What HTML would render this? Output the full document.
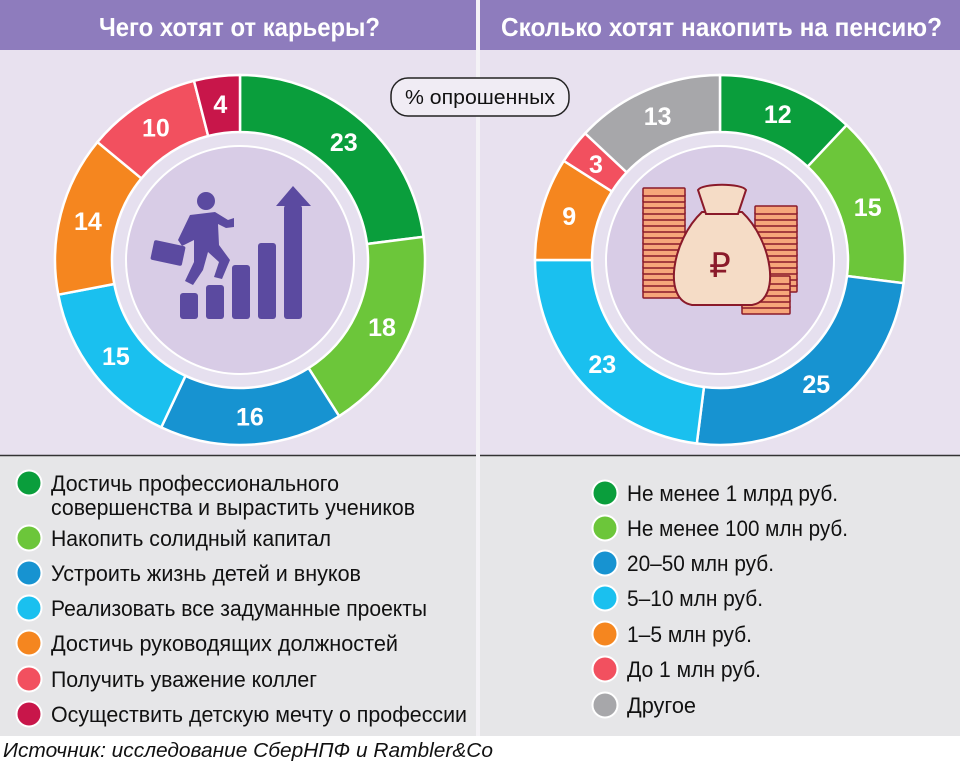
<!DOCTYPE html>
<html><head><meta charset="utf-8"><style>
html,body{margin:0;padding:0;background:#fff}
svg{display:block}
text{font-family:"Liberation Sans",sans-serif}
</style></head><body>
<svg id="s" width="960" height="768" viewBox="0 0 960 768" xmlns="http://www.w3.org/2000/svg">
<rect x="0" y="0" width="960" height="768" fill="#fff"/>
<rect x="0" y="50" width="960" height="405" fill="#e8e1ef"/>
<rect x="0" y="456" width="960" height="280" fill="#e6e6e8"/>
<rect x="0" y="0" width="960" height="50" fill="#8e7cbd"/>
<line x1="0" y1="455.5" x2="960" y2="455.5" stroke="#333" stroke-width="1.5"/>
<rect x="476" y="0" width="4" height="736" fill="#f4f2f6"/>
<text x="99" y="36" fill="#fff" font-size="26" font-weight="bold" textLength="281" lengthAdjust="spacingAndGlyphs">Чего хотят от карьеры?</text>
<text x="501" y="36" fill="#fff" font-size="26" font-weight="bold" textLength="441" lengthAdjust="spacingAndGlyphs">Сколько хотят накопить на пенсию?</text>
<g id="d1"></g><g id="d2"></g>
<rect x="391" y="78" width="178" height="38" rx="17" fill="#f0ecf4" stroke="#222" stroke-width="1.5"/>
<text x="405" y="104" font-size="20" fill="#111" textLength="150" lengthAdjust="spacingAndGlyphs">% опрошенных</text>
<!-- career icon -->
<g fill="#5b4aa0">
<rect x="180" y="293" width="18" height="26" rx="3"/>
<rect x="206" y="285" width="18" height="34" rx="3"/>
<rect x="232" y="265" width="18" height="54" rx="3"/>
<rect x="258" y="243" width="18" height="76" rx="3"/>
<rect x="284" y="205" width="18" height="114" rx="3"/>
<polygon points="276,206 293,186 311,206"/>
<circle cx="206" cy="201" r="9"/>
<path d="M190 215 L215 212 L228 220 L234 218 L234 227 L226 228 L218 224 L219 245 L230 260 L222 279 L214 277 L219 262 L208 252 L203 270 L193 285 L185 281 L194 262 L194 240 L182 246 L178 240 Z"/>
<rect x="152" y="243" width="32" height="20" rx="2" transform="rotate(12 168 253)"/>
</g>
<!-- money bag icon -->
<g id="money" stroke="#8a1a2a" stroke-width="1.5" fill="#f6a67a"></g>
<g stroke="#8a1a2a" stroke-width="2" fill="#f5dcc6">
<path d="M702 212 C672 240 662 300 692 305 L752 305 C782 300 772 240 742 212 Z"/>
<path d="M698 190 C702 183 742 183 746 190 L738 214 L706 214 Z"/>
</g>
<text x="720" y="277" font-size="34" fill="#8a1a2a" text-anchor="middle">₽</text>
<g id="leg"></g>
<text x="3" y="757" font-size="20" font-style="italic" fill="#111" textLength="490" lengthAdjust="spacingAndGlyphs">Источник: исследование СберНПФ и Rambler&amp;Co</text>
</svg>
<script>
const NS="http://www.w3.org/2000/svg";
function el(t,a,p,txt){const e=document.createElementNS(NS,t);for(const k in a)e.setAttribute(k,a[k]);if(txt!==undefined)e.textContent=txt;p.appendChild(e);return e;}
const m=document.getElementById("money");
function stack(x,yTop,yBot,w){for(let y=yBot;y>=yTop;y-=6)el("rect",{x,y,width:w,height:8,rx:1},m);}
stack(643,188,290,42);
stack(755,206,284,42);
stack(742,272,306,48);
function donut(g,cx,cy,data){
 const R=185,r=128,g2=document.getElementById(g);
 el("circle",{cx,cy,r:128,fill:"#e6e0ef"},g2);
 el("circle",{cx,cy,r:115,fill:"#fff"},g2);
 el("circle",{cx,cy,r:113,fill:"#d8cce6"},g2);
 let a=0;
 data.forEach(([v,c])=>{
  const a0=a/100*2*Math.PI-Math.PI/2,a1=(a+v)/100*2*Math.PI-Math.PI/2;
  const lg=v>50?1:0;
  const p=`M${cx+R*Math.cos(a0)} ${cy+R*Math.sin(a0)} A${R} ${R} 0 ${lg} 1 ${cx+R*Math.cos(a1)} ${cy+R*Math.sin(a1)} L${cx+r*Math.cos(a1)} ${cy+r*Math.sin(a1)} A${r} ${r} 0 ${lg} 0 ${cx+r*Math.cos(a0)} ${cy+r*Math.sin(a0)} Z`;
  el("path",{d:p,fill:c,stroke:"#fff","stroke-width":2.5},g2);
  const am=(a+v/2)/100*2*Math.PI-Math.PI/2;
  el("text",{x:cx+157*Math.cos(am),y:cy+157*Math.sin(am)+9,"text-anchor":"middle",fill:"#fff","font-size":25,"font-weight":"bold"},g2,String(v));
  a+=v;
 });
}
const G="#0a9e3c",LG="#6cc63a",B="#1793d1",C="#1ac0ef",O="#f5861f",P="#f2505f",Cr="#c8164a",Gr="#a7a7aa";
donut("d1",240,260,[[23,G],[18,LG],[16,B],[15,C],[14,O],[10,P],[4,Cr]]);
donut("d2",720,260,[[12,G],[15,LG],[25,B],[23,C],[9,O],[3,P],[13,Gr]]);
const leg=document.getElementById("leg");
function item(cx,cy,c,lines,w){
 el("circle",{cx,cy,r:12.5,fill:c,stroke:"#fff","stroke-width":2},leg);
 lines.forEach((t,i)=>el("text",{x:cx+22,y:cy+8+i*24,"font-size":22,fill:"#111",textLength:w[i],lengthAdjust:"spacingAndGlyphs"},leg,t));
}
const L=[[483,G,["Достичь профессионального","совершенства и вырастить учеников"],[288,364]],
[538,LG,["Накопить солидный капитал"],[280]],
[573,B,["Устроить жизнь детей и внуков"],[310]],
[608,C,["Реализовать все задуманные проекты"],[376]],
[643,O,["Достичь руководящих должностей"],[347]],
[679,P,["Получить уважение коллег"],[266]],
[714,Cr,["Осуществить детскую мечту о профессии"],[416]]];
L.forEach(([y,c,t,w])=>item(29,y,c,t,w));
const Rr=[[493,G,"Не менее 1 млрд руб.",211],[528,LG,"Не менее 100 млн руб.",221],[563,B,"20–50 млн руб.",147],[598,C,"5–10 млн руб.",136],[634,O,"1–5 млн руб.",125],[669,P,"До 1 млн руб.",134],[705,Gr,"Другое",69]];
Rr.forEach(([y,c,t,w])=>item(605,y,c,[t],[w]));
</script>
</body></html>
